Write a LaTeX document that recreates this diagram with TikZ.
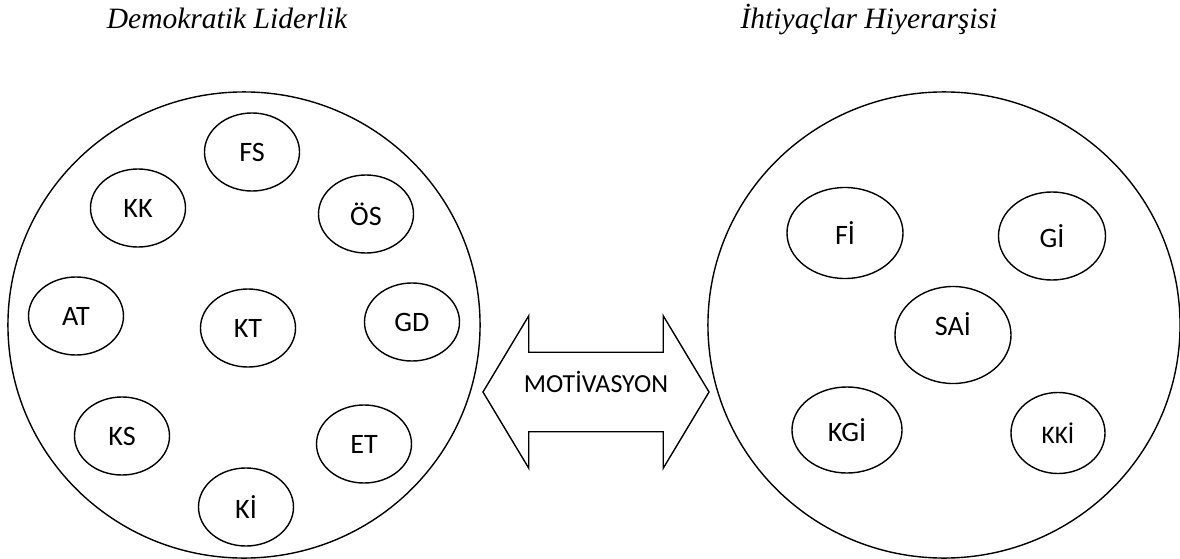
\documentclass[tikz,border=0pt]{standalone}
\usepackage{fontspec}
\setmainfont{Liberation Serif}
\newfontfamily\boxfont{Carlito}
\usetikzlibrary{shapes.geometric,shapes.arrows,positioning}
\tikzset{
    group/.style={draw, ellipse, line width=1pt, minimum width=11.8cm, minimum height=11.65cm},
    item/.style={draw, ellipse, line width=1pt, inner sep=0pt, minimum width=2.375cm, minimum height=1.95cm, font=\boxfont\fontsize{20}{24}\selectfont, align=center},
    heading/.style={font=\itshape\fontsize{21}{25}\selectfont, anchor=base},
    twoWay/.style={draw, double arrow, line width=1pt, double arrow tip angle=118, double arrow head extend=0.9125cm, minimum height=5.65cm, inner xsep=0pt, inner ysep=0pt, text height=0.975cm, text depth=0.975cm, font=\boxfont\fontsize{18.5}{22}\selectfont},
}

\begin{document}
\begin{tikzpicture}[x=0.025cm, y=-0.025cm]
\useasboundingbox (0,0) rectangle (1180,559);

% titles
\node[heading] (lefttitle) at (227, 29) {Demokratik Liderlik};
\node[heading] (righttitle) at (869, 29) {İhtiyaçlar Hiyerarşisi};

% big circles
\node[group] (leader) at (244, 325) {};
\node[group] (needs) at (944, 325) {};

% democratic leadership
\node[item] (fs) at (252, 152) {FS};
\node[item] (kk) at (138, 208) {KK};
\node[item] (os) at (366, 214) {ÖS};
\node[item] (at) at (76, 316) {AT};
\node[item] (kt) at (248, 328) {KT};
\node[item] (gd) at (412, 322) {GD};
\node[item] (ks) at (122, 436) {KS};
\node[item] (et) at (364, 444) {ET};
\node[item] (ki) at (246, 507) {Kİ};

% hierarchy of needs
\node[item, minimum width=2.9cm, minimum height=2.275cm] (fi) at (845, 233) {Fİ};
\node[item, minimum width=2.675cm, minimum height=2.2cm] (gi) at (1052, 236) {Gİ};
\node[item, minimum width=2.9cm, minimum height=2.425cm, text height=0.4cm, text depth=0.4cm] (sai) at (953, 335) {SAİ};
\node[item, minimum width=2.75cm, minimum height=2.15cm] (kgi) at (847, 430) {KGİ};
\node[item, minimum width=2.35cm, minimum height=2.025cm, font=\boxfont\fontsize{18}{22}\selectfont] (kki) at (1058, 433) {KKİ};

% motivation arrow
\node[twoWay] (motiv) at (596, 392) {MOTİVASYON};

\end{tikzpicture}
\end{document}
